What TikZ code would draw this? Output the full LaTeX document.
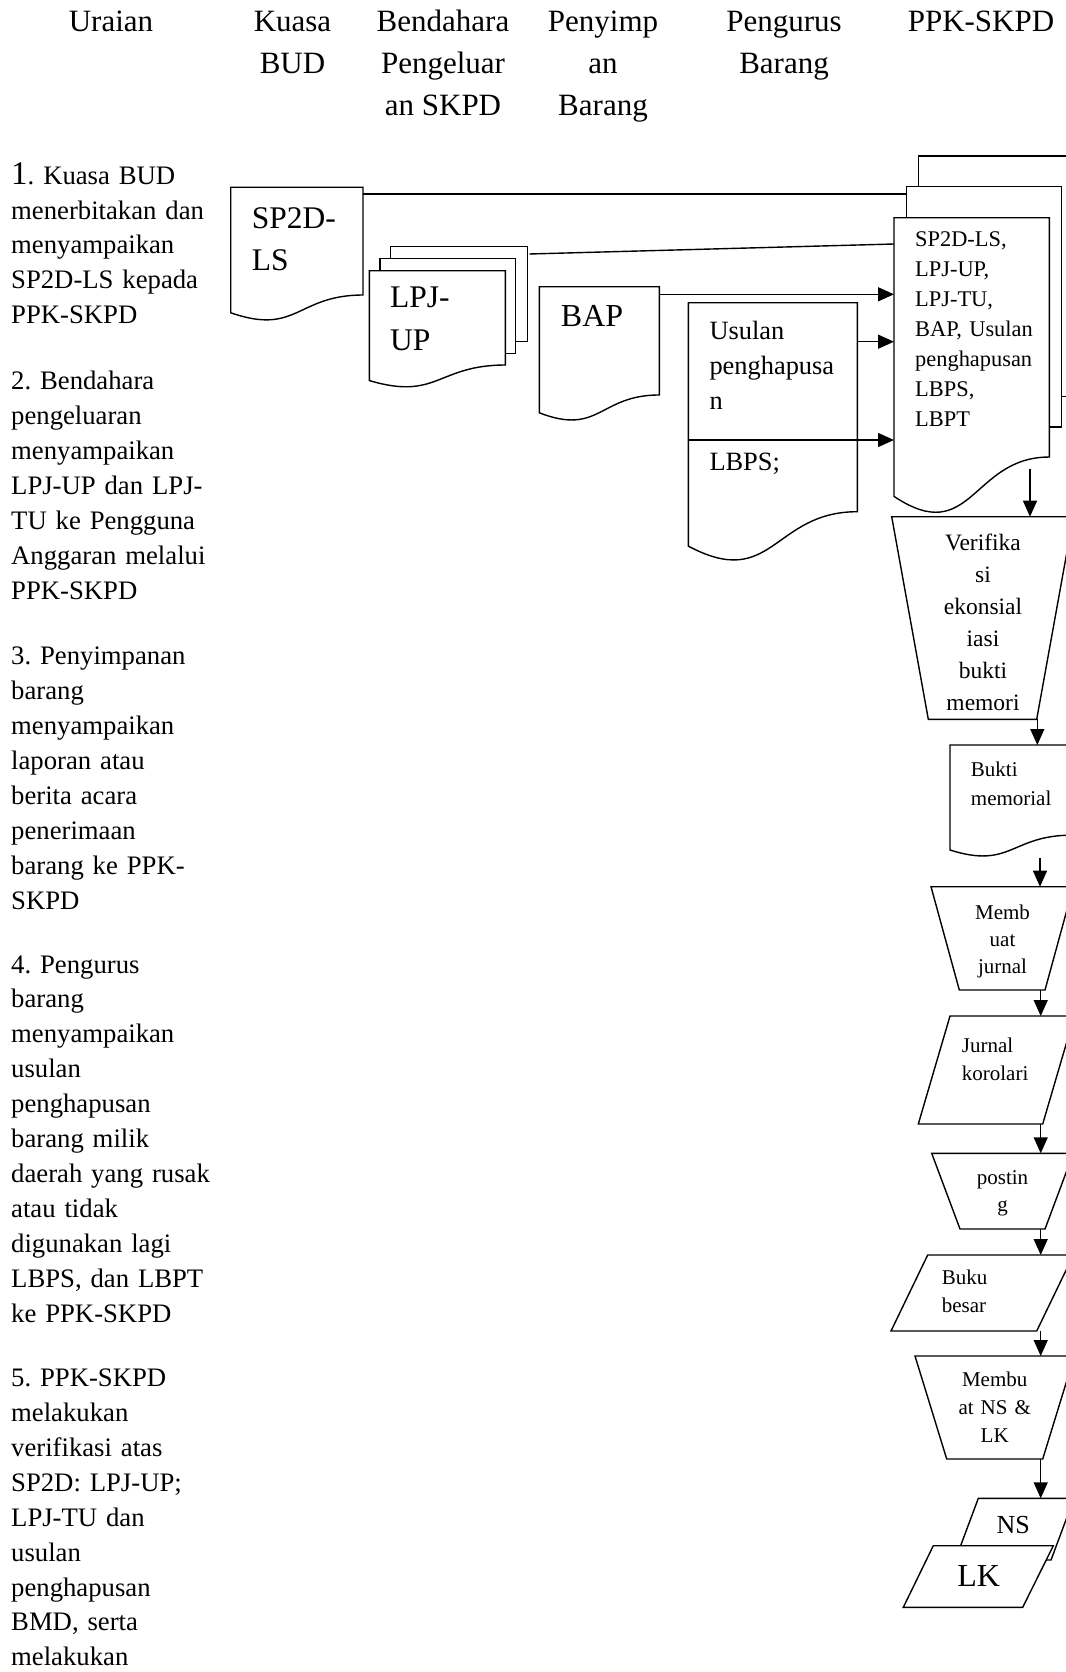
\documentclass[tikz,border=0pt]{standalone}
\usepackage{fontspec}
\setmainfont{Liberation Serif}
\usetikzlibrary{arrows.meta}
\frenchspacing
\tikzset{
  ln/.style={line width=1.4pt, line join=miter},
  arr/.style={ln, -{Triangle[length=16pt,width=14pt]}},
  shp/.style={ln, fill=white},
  hd/.style={anchor=base, inner sep=0, font=\fontsize{31}{42}\selectfont},
  para/.style={anchor=north west, inner sep=0, align=left, text width=230pt, font=\fontsize{26.7}{34.9}\selectfont},
}
% x1 x2 top h
\newcommand\docshape[4]{\draw[shp] (#1,#3) -- (#2,#3) -- (#2,{#3+0.802*#4}) .. controls ({(#1+#2)/2},{#3+0.802*#4}) and ({(#1+#2)/2},{#3+1.107*#4}) .. (#1,{#3+0.934*#4}) -- cycle;}
\begin{document}
\frenchspacing
\begin{tikzpicture}[x=1pt,y=-1pt]
\useasboundingbox (0,0) rectangle (1065,1672);
\fill[white] (0,0) rectangle (1065,1672);
% header
\node[hd] (hU) at (111,31.5) {Uraian};
\node[hd] (hK1) at (292.5,31.5) {Kuasa};
\node[hd] (hK2) at (292.5,74) {BUD};
\node[hd] (hB1) at (443,31.5) {Bendahara};
\node[hd] (hB2) at (443,74) {Pengeluar};
\node[hd] (hB3) at (443,116) {an SKPD};
\node[hd] (hP1) at (603,31.5) {Penyimp};
\node[hd] (hP2) at (603,74) {an};
\node[hd] (hP3) at (603,116) {Barang};
\node[hd] (hG1) at (784,31.5) {Pengurus};
\node[hd] (hG2) at (784,74) {Barang};
\node[hd] (hS) at (981,31.5) {PPK-SKPD};
% left description
\node[para] (p1) at (11,{184-24.43}) {\strut{\fontsize{33}{34}\selectfont 1}. Kuasa BUD\\menerbitakan dan\\menyampaikan\\SP2D-LS kepada\\PPK-SKPD};
\node[para] (p2) at (11,{389.6-24.43}) {\strut 2. Bendahara\\pengeluaran\\menyampaikan\\LPJ-UP dan LPJ-\\TU ke Pengguna\\Anggaran melalui\\PPK-SKPD};
\node[para] (p3) at (11,{664.7-24.43}) {\strut 3. Penyimpanan\\barang\\menyampaikan\\laporan atau\\berita acara\\penerimaan\\barang ke PPK-\\SKPD};
\node[para] (p4) at (11,{972.8-24.43}) {\strut 4. Pengurus\\barang\\menyampaikan\\usulan\\penghapusan\\barang milik\\daerah yang rusak\\atau tidak\\digunakan lagi\\LBPS, dan LBPT\\ke PPK-SKPD};
\node[para] (p5) at (11,{1386.4-24.43}) {\strut 5. PPK-SKPD\\melakukan\\verifikasi atas\\SP2D: LPJ-UP;\\LPJ-TU dan\\usulan\\penghapusan\\BMD, serta\\melakukan};
% documents
\docshape{230.7}{363}{187.3}{134.3}
\draw[shp] (390.7,246.7) rectangle (527.3,341.7);
\draw[shp] (380,258.3) rectangle (515.3,353.3);
\docshape{369.3}{505.3}{270.7}{117.6}
\docshape{539.3}{659.3}{286.7}{135}
\docshape{688.3}{857.3}{302.7}{260.6}
\draw[shp] (918.3,156) rectangle (1074,396.7);
\draw[shp] (906.7,186.7) rectangle (1061.7,427);
\docshape{894}{1049.3}{217.7}{298.4}
\docshape{950}{1072}{745}{112.4}
% trapezoids (manual operations)
\draw[shp] (891.7,516.7) -- (1073.3,516.7) -- (1036.7,719.3) -- (928.3,719.3) -- cycle;
\draw[shp] (931,886.7) -- (1073.3,886.7) -- (1045,990) -- (959.3,990) -- cycle;
\draw[shp] (931.7,1153.3) -- (1073.3,1153.3) -- (1045,1229) -- (960,1229) -- cycle;
\draw[shp] (915,1356) -- (1074.4,1356) -- (1042.7,1459) -- (946.7,1459) -- cycle;
% parallelograms (data)
\draw[shp] (950,1016) -- (1074.4,1016) -- (1042.7,1124) -- (918.3,1124) -- cycle;
\draw[shp] (927.7,1255) -- (1073.4,1255) -- (1036.7,1331) -- (891,1331) -- cycle;
\draw[shp] (978.3,1498.3) -- (1074,1498.3) -- (1051,1560) -- (955.3,1560) -- cycle;
\draw[shp] (933.3,1545.7) -- (1053.3,1545.7) -- (1022.7,1607.3) -- (903.3,1607.3) -- cycle;
% texts in shapes
\node[anchor=north west, inner sep=0, align=left, text width=110pt, font=\fontsize{31.5}{42.4}\selectfont] (tsp) at (251.7,{228.3-29.7}) {\strut SP2D-\\LS};
\node[anchor=north west, inner sep=0, align=left, text width=110pt, font=\fontsize{31.5}{42.7}\selectfont] (tlpj) at (390,{307.3-29.9}) {\strut LPJ-\\UP};
\node[anchor=base west, inner sep=0, font=\fontsize{32}{40}\selectfont] (tbap) at (560.7,326.7) {BAP};
\node[anchor=north west, inner sep=0, align=left, text width=145pt, font=\fontsize{26.4}{35}\selectfont] (tus) at (709.3,{339.3-24.5}) {\strut Usulan\\penghapusa\\n};
\node[anchor=base west, inner sep=0, font=\fontsize{26.4}{35}\selectfont] (tlb) at (709.3,470) {LBPS;};
\node[anchor=north west, inner sep=0, align=left, text width=140pt, font=\fontsize{22.4}{30}\selectfont] (tppk) at (915,{246.7-21}) {\strut SP2D-LS,\\LPJ-UP,\\LPJ-TU,\\BAP, Usulan\\penghapusan\\LBPS,\\LBPT};
\node[anchor=north, inner sep=0, align=center, text width=120pt, font=\fontsize{23.5}{32}\selectfont] (tver) at (983,{550-22.4}) {\strut Verifika\\si\\ekonsial\\iasi\\bukti\\memori};
\node[anchor=north west, inner sep=0, align=left, text width=100pt, font=\fontsize{21}{28.5}\selectfont] (tbm) at (970.7,{776.7-19.95}) {\strut Bukti\\memorial};
\node[anchor=north, inner sep=0, align=center, text width=100pt, font=\fontsize{21}{27}\selectfont] (tmj) at (1002.5,{919-18.9}) {\strut Memb\\uat\\jurnal};
\node[anchor=north west, inner sep=0, align=left, text width=100pt, font=\fontsize{21}{28}\selectfont] (tjk) at (961.7,{1052-19.6}) {\strut Jurnal\\korolari};
\node[anchor=north, inner sep=0, align=center, text width=100pt, font=\fontsize{21}{27}\selectfont] (tpo) at (1002.5,{1184-18.9}) {\strut postin\\g};
\node[anchor=north west, inner sep=0, align=left, text width=100pt, font=\fontsize{21}{28}\selectfont] (tbb) at (941.7,{1284-19.6}) {\strut Buku\\besar};
\node[anchor=north, inner sep=0, align=center, text width=100pt, font=\fontsize{21}{28}\selectfont] (tmn) at (994.7,{1386-19.6}) {\strut Membu\\at NS \&\\LK};
\node[anchor=base, inner sep=0, font=\fontsize{26}{30}\selectfont] (tns) at (1013.3,1533) {NS};
\node[anchor=base, inner sep=0, font=\fontsize{32}{36}\selectfont] (tlk) at (978.7,1586) {LK};
% connector end points
\coordinate (spE) at (363,194);
\coordinate (ppkMidW) at (906.7,194);
\coordinate (lpjE) at (529.3,254);
\coordinate (ppkW1) at (894,244);
\coordinate (bapE) at (659.3,294.3);
\coordinate (ppkW2) at (894,294.3);
\coordinate (usE) at (857.3,341.7);
\coordinate (ppkW3) at (894,341.7);
\coordinate (lbW) at (688.3,440);
\coordinate (ppkW4) at (894,440);
\coordinate (ppkS) at (1030,469);
\coordinate (verN) at (1030,516.7);
\coordinate (verS) at (1037.3,719.3);
\coordinate (bmN) at (1037.3,745);
\coordinate (bmS) at (1040,858.3);
\coordinate (mjN) at (1040,886.7);
\coordinate (mjS) at (1040.7,990);
\coordinate (jkN) at (1040.7,1016);
\coordinate (jkS) at (1040.7,1124);
\coordinate (poN) at (1040.7,1153.3);
\coordinate (poS) at (1040.7,1229);
\coordinate (bbN) at (1040.7,1255);
\coordinate (bbS) at (1040.7,1331);
\coordinate (mnN) at (1040.7,1356);
\coordinate (mnS) at (1040.7,1459);
\coordinate (nsN) at (1040.7,1498.3);
% connectors
\draw[ln] (spE) -- (ppkMidW);
\draw[ln] (lpjE) -- (ppkW1);
\draw[arr] (bapE) -- (ppkW2);
\draw[arr] (usE) -- (ppkW3);
\draw[arr] (lbW) -- (ppkW4);
\draw[arr] (ppkS) -- (verN);
\draw[arr] (verS) -- (bmN);
\draw[arr] (bmS) -- (mjN);
\draw[arr] (mjS) -- (jkN);
\draw[arr] (jkS) -- (poN);
\draw[arr] (poS) -- (bbN);
\draw[arr] (bbS) -- (mnN);
\draw[arr] (mnS) -- (nsN);
\end{tikzpicture}
\end{document}
